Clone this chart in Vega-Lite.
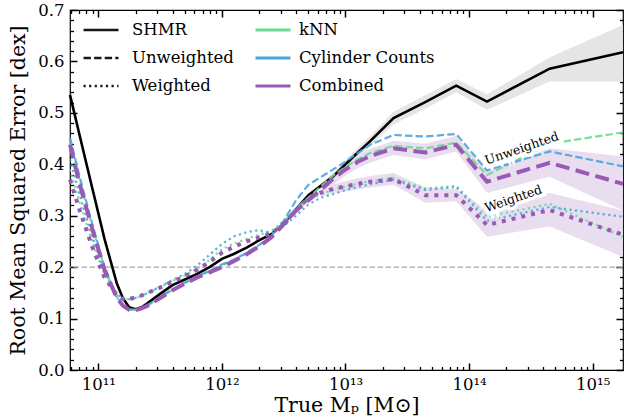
{
  "$schema": "https://vega.github.io/schema/vega-lite/v6.json",
  "width": 553,
  "height": 360,
  "autosize": {"type": "none"},
  "padding": {"left": 70, "top": 10, "right": 19, "bottom": 47},
  "background": "white",
  "datasets": {
    "curves": [
      {"m": 5.9e10, "S": 0.535, "kU": 0.445, "cU": 0.452, "bU": 0.438, "kW": 0.39, "cW": 0.41, "bW": 0.37},
      {"m": 7.08e10, "S": 0.455, "kU": 0.368, "cU": 0.375, "bU": 0.36, "kW": 0.325, "cW": 0.34, "bW": 0.31},
      {"m": 8.91e10, "S": 0.355, "kU": 0.28, "cU": 0.285, "bU": 0.275, "kW": 0.25, "cW": 0.26, "bW": 0.24},
      {"m": 1.122e11, "S": 0.255, "kU": 0.198, "cU": 0.2, "bU": 0.195, "kW": 0.185, "cW": 0.19, "bW": 0.18},
      {"m": 1.413e11, "S": 0.168, "kU": 0.141, "cU": 0.142, "bU": 0.14, "kW": 0.146, "cW": 0.148, "bW": 0.145},
      {"m": 1.585e11, "S": 0.139, "kU": 0.126, "cU": 0.126, "bU": 0.125, "kW": 0.138, "cW": 0.139, "bW": 0.138},
      {"m": 1.778e11, "S": 0.122, "kU": 0.118, "cU": 0.118, "bU": 0.117, "kW": 0.138, "cW": 0.138, "bW": 0.138},
      {"m": 1.995e11, "S": 0.118, "kU": 0.117, "cU": 0.117, "bU": 0.116, "kW": 0.14, "cW": 0.14, "bW": 0.141},
      {"m": 2.239e11, "S": 0.122, "kU": 0.12, "cU": 0.12, "bU": 0.12, "kW": 0.144, "cW": 0.144, "bW": 0.145},
      {"m": 2.512e11, "S": 0.13, "kU": 0.126, "cU": 0.126, "bU": 0.125, "kW": 0.15, "cW": 0.15, "bW": 0.15},
      {"m": 3.162e11, "S": 0.148, "kU": 0.141, "cU": 0.142, "bU": 0.14, "kW": 0.161, "cW": 0.162, "bW": 0.16},
      {"m": 3.981e11, "S": 0.165, "kU": 0.156, "cU": 0.157, "bU": 0.155, "kW": 0.173, "cW": 0.175, "bW": 0.172},
      {"m": 5.012e11, "S": 0.176, "kU": 0.169, "cU": 0.17, "bU": 0.168, "kW": 0.184, "cW": 0.187, "bW": 0.182},
      {"m": 6.31e11, "S": 0.187, "kU": 0.181, "cU": 0.182, "bU": 0.18, "kW": 0.197, "cW": 0.203, "bW": 0.195},
      {"m": 7.943e11, "S": 0.2, "kU": 0.192, "cU": 0.193, "bU": 0.19, "kW": 0.214, "cW": 0.224, "bW": 0.21},
      {"m": 1e12, "S": 0.216, "kU": 0.203, "cU": 0.205, "bU": 0.2, "kW": 0.235, "cW": 0.245, "bW": 0.228},
      {"m": 1.259e12, "S": 0.226, "kU": 0.214, "cU": 0.215, "bU": 0.212, "kW": 0.246, "cW": 0.26, "bW": 0.24},
      {"m": 1.585e12, "S": 0.238, "kU": 0.227, "cU": 0.228, "bU": 0.225, "kW": 0.255, "cW": 0.268, "bW": 0.25},
      {"m": 1.995e12, "S": 0.252, "kU": 0.242, "cU": 0.243, "bU": 0.24, "kW": 0.263, "cW": 0.272, "bW": 0.258},
      {"m": 2.512e12, "S": 0.264, "kU": 0.26, "cU": 0.26, "bU": 0.258, "kW": 0.27, "cW": 0.266, "bW": 0.265},
      {"m": 3.162e12, "S": 0.285, "kU": 0.287, "cU": 0.29, "bU": 0.283, "kW": 0.29, "cW": 0.28, "bW": 0.285},
      {"m": 3.981e12, "S": 0.313, "kU": 0.315, "cU": 0.33, "bU": 0.31, "kW": 0.31, "cW": 0.3, "bW": 0.31},
      {"m": 5.012e12, "S": 0.34, "kU": 0.335, "cU": 0.36, "bU": 0.33, "kW": 0.33, "cW": 0.322, "bW": 0.335},
      {"m": 6.31e12, "S": 0.358, "kU": 0.357, "cU": 0.375, "bU": 0.35, "kW": 0.342, "cW": 0.335, "bW": 0.345},
      {"m": 7.943e12, "S": 0.376, "kU": 0.378, "cU": 0.39, "bU": 0.372, "kW": 0.35, "cW": 0.342, "bW": 0.352},
      {"m": 1e13, "S": 0.4, "kU": 0.395, "cU": 0.405, "bU": 0.39, "kW": 0.357, "cW": 0.35, "bW": 0.357},
      {"m": 1.259e13, "S": 0.423, "kU": 0.41, "cU": 0.422, "bU": 0.405, "kW": 0.362, "cW": 0.356, "bW": 0.362},
      {"m": 1.585e13, "S": 0.445, "kU": 0.422, "cU": 0.438, "bU": 0.416, "kW": 0.367, "cW": 0.361, "bW": 0.366},
      {"m": 2.449e13, "S": 0.49, "kU": 0.436, "cU": 0.457, "bU": 0.431, "kW": 0.373, "cW": 0.37, "bW": 0.371},
      {"m": 4.416e13, "S": 0.521, "kU": 0.431, "cU": 0.454, "bU": 0.423, "kW": 0.353, "cW": 0.35, "bW": 0.34},
      {"m": 7.87e13, "S": 0.553, "kU": 0.442, "cU": 0.459, "bU": 0.438, "kW": 0.358, "cW": 0.356, "bW": 0.34},
      {"m": 1.396e14, "S": 0.522, "kU": 0.379, "cU": 0.388, "bU": 0.366, "kW": 0.298, "cW": 0.29, "bW": 0.282},
      {"m": 4.487e14, "S": 0.586, "kU": 0.44, "cU": 0.425, "bU": 0.403, "kW": 0.323, "cW": 0.317, "bW": 0.311},
      {"m": 1.758e15, "S": 0.618, "kU": 0.462, "cU": 0.396, "bU": 0.362, "kW": 0.259, "cW": 0.298, "bW": 0.263}
    ],
    "series": [
      {"key": "S", "method": "SHMR", "style": "SHMR"},
      {"key": "kU", "method": "kNN", "style": "Unweighted"},
      {"key": "cU", "method": "Cylinder Counts", "style": "Unweighted"},
      {"key": "bU", "method": "Combined", "style": "Unweighted"},
      {"key": "kW", "method": "kNN", "style": "Weighted"},
      {"key": "cW", "method": "Cylinder Counts", "style": "Weighted"},
      {"key": "bW", "method": "Combined", "style": "Weighted"}
    ],
    "bands": [
      {"m": 6.31e12, "band": "SHMR", "lo": 0.353, "hi": 0.363},
      {"m": 7.943e12, "band": "SHMR", "lo": 0.37, "hi": 0.382},
      {"m": 1e13, "band": "SHMR", "lo": 0.392, "hi": 0.408},
      {"m": 1.259e13, "band": "SHMR", "lo": 0.414, "hi": 0.432},
      {"m": 1.585e13, "band": "SHMR", "lo": 0.435, "hi": 0.455},
      {"m": 2.449e13, "band": "SHMR", "lo": 0.478, "hi": 0.502},
      {"m": 4.416e13, "band": "SHMR", "lo": 0.508, "hi": 0.534},
      {"m": 7.87e13, "band": "SHMR", "lo": 0.54, "hi": 0.566},
      {"m": 1.396e14, "band": "SHMR", "lo": 0.506, "hi": 0.536},
      {"m": 4.487e14, "band": "SHMR", "lo": 0.561, "hi": 0.608},
      {"m": 1.758e15, "band": "SHMR", "lo": 0.561, "hi": 0.671},
      {"m": 6.31e12, "band": "Unweighted", "lo": 0.338, "hi": 0.362},
      {"m": 7.943e12, "band": "Unweighted", "lo": 0.36, "hi": 0.384},
      {"m": 1e13, "band": "Unweighted", "lo": 0.378, "hi": 0.402},
      {"m": 1.259e13, "band": "Unweighted", "lo": 0.393, "hi": 0.417},
      {"m": 1.585e13, "band": "Unweighted", "lo": 0.403, "hi": 0.43},
      {"m": 2.449e13, "band": "Unweighted", "lo": 0.418, "hi": 0.446},
      {"m": 4.416e13, "band": "Unweighted", "lo": 0.41, "hi": 0.44},
      {"m": 7.87e13, "band": "Unweighted", "lo": 0.425, "hi": 0.455},
      {"m": 1.396e14, "band": "Unweighted", "lo": 0.344, "hi": 0.386},
      {"m": 4.487e14, "band": "Unweighted", "lo": 0.376, "hi": 0.431},
      {"m": 1.758e15, "band": "Unweighted", "lo": 0.31, "hi": 0.415},
      {"m": 6.31e12, "band": "Weighted", "lo": 0.337, "hi": 0.353},
      {"m": 7.943e12, "band": "Weighted", "lo": 0.343, "hi": 0.361},
      {"m": 1e13, "band": "Weighted", "lo": 0.347, "hi": 0.367},
      {"m": 1.259e13, "band": "Weighted", "lo": 0.351, "hi": 0.373},
      {"m": 1.585e13, "band": "Weighted", "lo": 0.355, "hi": 0.377},
      {"m": 2.449e13, "band": "Weighted", "lo": 0.36, "hi": 0.383},
      {"m": 4.416e13, "band": "Weighted", "lo": 0.325, "hi": 0.355},
      {"m": 7.87e13, "band": "Weighted", "lo": 0.328, "hi": 0.352},
      {"m": 1.396e14, "band": "Weighted", "lo": 0.259, "hi": 0.311},
      {"m": 4.487e14, "band": "Weighted", "lo": 0.279, "hi": 0.344},
      {"m": 1.758e15, "band": "Weighted", "lo": 0.22, "hi": 0.31}
    ],
    "labels": [
      {"m": 2.67e14, "v": 0.431, "text": "Unweighted"},
      {"m": 2.28e14, "v": 0.333, "text": "Weighted"}
    ],
    "ref": [{"v": 0.2}]
  },
  "config": {
    "font": "DejaVu Serif",
    "view": {"stroke": "black", "strokeWidth": 1.2},
    "axis": {
      "domain": true, "domainOpacity": 0, "ticks": true, "tickColor": "#000000", "tickWidth": 1.5, "tickOpacity": 1, "zindex": 1,
      "labelColor": "black", "titleColor": "black", "labelFont": "DejaVu Serif", "titleFont": "DejaVu Serif",
      "labelFontSize": 16.5, "titleFontSize": 20.5, "titleFontWeight": "normal", "grid": false
    },
    "legend": {
      "labelFont": "DejaVu Serif", "labelFontSize": 16.5, "labelFontWeight": "normal", "labelColor": "black",
      "symbolType": "stroke", "symbolSize": 1225, "symbolStrokeWidth": 2.5,
      "labelOffset": 12, "rowPadding": -15.5, "padding": 0, "title": null
    }
  },
  "resolve": {
    "axis": {"x": "independent", "y": "independent"},
    "scale": {"strokeDash": "independent"}
  },
  "layer": [
    {
      "data": {"name": "bands"},
      "mark": {"type": "area", "opacity": 1},
      "encoding": {
        "x": {
          "field": "m", "type": "quantitative",
          "scale": {"type": "log", "domain": [5.9e10, 1.76e15], "nice": false},
          "title": "True Mₚ [M⊙]",
          "axis": {
            "orient": "bottom", "offset": -7, "tickSize": 7, "ticks": true, "tickColor": "#000000", "tickWidth": 1.5,
            "values": [1e11, 1e12, 1e13, 1e14, 1e15],
            "labelExpr": "datum.value == 1e11 ? '10¹¹' : datum.value == 1e12 ? '10¹²' : datum.value == 1e13 ? '10¹³' : datum.value == 1e14 ? '10¹⁴' : '10¹⁵'",
            "labelPadding": 6, "titlePadding": 3
          }
        },
        "y": {
          "field": "lo", "type": "quantitative",
          "scale": {"domain": [0, 0.7], "nice": false, "zero": false},
          "title": "Root Mean Squared Error [dex]",
          "axis": {
            "orient": "left", "offset": -7, "tickSize": 7, "ticks": true, "tickColor": "#000000", "tickWidth": 1.5,
            "values": [0, 0.1, 0.2, 0.3, 0.4, 0.5, 0.6, 0.7],
            "format": ".1f",
            "labelPadding": 6, "titlePadding": 9
          }
        },
        "y2": {"field": "hi"},
        "fill": {
          "field": "band", "type": "nominal",
          "scale": {"domain": ["SHMR", "Unweighted", "Weighted"], "range": ["#e5e5e5", "#e9ddf0", "#e9ddf0"]},
          "legend": null
        }
      }
    },
    {
      "data": {"name": "ref"},
      "mark": {"type": "rule", "color": "#aaaaaa", "strokeWidth": 1.4, "strokeDash": [5.5, 2.5]},
      "encoding": {
        "y": {
          "field": "v", "type": "quantitative",
          "axis": {
            "orient": "right", "title": null, "labels": false, "offset": -7, "tickSize": 7, "ticks": true, "tickColor": "#000000", "tickWidth": 1.5,
            "values": [0, 0.1, 0.2, 0.3, 0.4, 0.5, 0.6, 0.7]
          }
        }
      }
    },
    {
      "data": {"name": "curves"},
      "transform": [
        {"fold": ["S", "kU", "cU", "bU", "kW", "cW", "bW"], "as": ["key", "rmse"]},
        {"lookup": "key", "from": {"data": {"name": "series"}, "key": "key", "fields": ["method", "style"]}},
        {"filter": "datum.method == 'SHMR'"}
      ],
      "mark": {"type": "line", "color": "black", "strokeWidth": 2.6},
      "encoding": {
        "x": {
          "field": "m", "type": "quantitative",
          "axis": {
            "orient": "top", "title": null, "labels": false, "offset": -7, "tickSize": 7, "ticks": true, "tickColor": "#000000", "tickWidth": 1.5,
            "values": [1e11, 1e12, 1e13, 1e14, 1e15]
          }
        },
        "y": {
          "field": "rmse", "type": "quantitative",
          "axis": {
            "orient": "left", "title": null, "labels": false, "offset": -3.5, "tickSize": 3.5, "ticks": true, "tickColor": "#000000", "tickWidth": 1.3,
            "values": [0.02, 0.04, 0.06, 0.08, 0.12, 0.14, 0.16, 0.18, 0.22, 0.24, 0.26, 0.28, 0.32, 0.34, 0.36, 0.38, 0.42, 0.44, 0.46, 0.48, 0.52, 0.54, 0.56, 0.58, 0.62, 0.64, 0.66, 0.68]
          }
        }
      }
    },
    {
      "data": {"name": "curves"},
      "transform": [
        {"fold": ["S", "kU", "cU", "bU", "kW", "cW", "bW"], "as": ["key", "rmse"]},
        {"lookup": "key", "from": {"data": {"name": "series"}, "key": "key", "fields": ["method", "style"]}},
        {"filter": "datum.method == 'kNN' || datum.method == 'Cylinder Counts'"}
      ],
      "mark": {"type": "line", "strokeWidth": 2.2, "opacity": 0.9},
      "encoding": {
        "x": {
          "field": "m", "type": "quantitative",
          "axis": {
            "orient": "bottom", "title": null, "labels": false, "offset": -3.5, "tickSize": 3.5, "ticks": true, "tickColor": "#000000", "tickWidth": 1.3,
            "values": [6e10, 7e10, 8e10, 9e10, 2e11, 3e11, 4e11, 5e11, 6e11, 7e11, 8e11, 9e11, 2e12, 3e12, 4e12, 5e12, 6e12, 7e12, 8e12, 9e12, 2e13, 3e13, 4e13, 5e13, 6e13, 7e13, 8e13, 9e13, 2e14, 3e14, 4e14, 5e14, 6e14, 7e14, 8e14, 9e14]
          }
        },
        "y": {
          "field": "rmse", "type": "quantitative",
          "axis": {
            "orient": "right", "title": null, "labels": false, "offset": -3.5, "tickSize": 3.5, "ticks": true, "tickColor": "#000000", "tickWidth": 1.3,
            "values": [0.02, 0.04, 0.06, 0.08, 0.12, 0.14, 0.16, 0.18, 0.22, 0.24, 0.26, 0.28, 0.32, 0.34, 0.36, 0.38, 0.42, 0.44, 0.46, 0.48, 0.52, 0.54, 0.56, 0.58, 0.62, 0.64, 0.66, 0.68]
          }
        },
        "color": {
          "field": "method", "type": "nominal",
          "scale": {"domain": ["kNN", "Cylinder Counts", "Combined"], "range": ["#6dd98f", "#4da3df", "#9b59b6"]},
          "legend": {"orient": "none", "legendX": 184, "legendY": 1, "values": ["kNN", "Cylinder Counts", "Combined"], "symbolStrokeWidth": 2.8, "symbolOpacity": 1, "labelFont": "DejaVu Serif", "labelFontWeight": "normal", "labelOffset": 7}
        },
        "strokeDash": {
          "field": "style", "type": "nominal",
          "scale": {"domain": ["SHMR", "Unweighted", "Weighted"], "range": [[1, 0], [7.4, 3.2], [2.2, 3.4]]},
          "legend": {"orient": "none", "legendX": 12, "legendY": 1, "symbolStrokeColor": "black", "symbolStrokeWidth": 2.6, "labelFont": "DejaVu Serif", "labelFontWeight": "normal", "labelOffset": 12}
        }
      }
    },
    {
      "data": {"name": "curves"},
      "transform": [
        {"fold": ["S", "kU", "cU", "bU", "kW", "cW", "bW"], "as": ["key", "rmse"]},
        {"lookup": "key", "from": {"data": {"name": "series"}, "key": "key", "fields": ["method", "style"]}},
        {"filter": "datum.method == 'Combined'"}
      ],
      "mark": {"type": "line", "strokeWidth": 4},
      "encoding": {
        "x": {
          "field": "m", "type": "quantitative",
          "axis": {
            "orient": "top", "title": null, "labels": false, "offset": -3.5, "tickSize": 3.5, "ticks": true, "tickColor": "#000000", "tickWidth": 1.3,
            "values": [6e10, 7e10, 8e10, 9e10, 2e11, 3e11, 4e11, 5e11, 6e11, 7e11, 8e11, 9e11, 2e12, 3e12, 4e12, 5e12, 6e12, 7e12, 8e12, 9e12, 2e13, 3e13, 4e13, 5e13, 6e13, 7e13, 8e13, 9e13, 2e14, 3e14, 4e14, 5e14, 6e14, 7e14, 8e14, 9e14]
          }
        },
        "y": {"field": "rmse", "type": "quantitative", "axis": null},
        "color": {"field": "method", "type": "nominal"},
        "strokeDash": {
          "field": "style", "type": "nominal",
          "scale": {"domain": ["Unweighted", "Weighted"], "range": [[14, 6.5], [4, 6]]},
          "legend": null
        }
      }
    },
    {
      "data": {"name": "labels"},
      "mark": {"type": "text", "angle": -19, "fontSize": 12.5, "font": "DejaVu Serif", "align": "center", "baseline": "middle", "stroke": "white", "strokeWidth": 7, "fill": "white"},
      "encoding": {
        "x": {"field": "m", "type": "quantitative", "axis": null},
        "y": {"field": "v", "type": "quantitative", "axis": null},
        "text": {"field": "text"}
      }
    },
    {
      "data": {"name": "labels"},
      "mark": {"type": "text", "angle": -19, "fontSize": 12.5, "font": "DejaVu Serif", "align": "center", "baseline": "middle", "color": "black"},
      "encoding": {
        "x": {"field": "m", "type": "quantitative", "axis": null},
        "y": {"field": "v", "type": "quantitative", "axis": null},
        "text": {"field": "text"}
      }
    }
  ]
}
